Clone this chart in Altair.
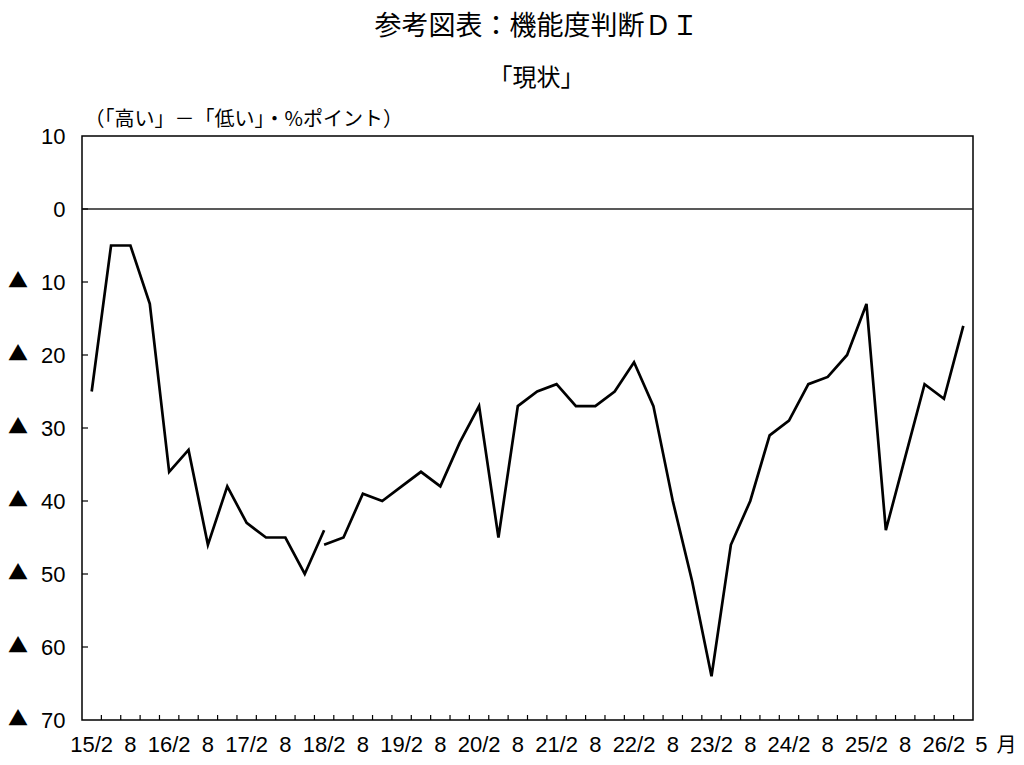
import altair as alt
import pandas as pd

years = list(range(15, 27))
months = [2, 5, 8, 11]
keys = [f"{y}/{m}" for y in years for m in months][:46]

# series before the break (15/2 .. 18/2) and after (18/2 .. 26/5)
series_a = [-25, -5, -5, -13, -36, -33, -46, -38, -43, -45, -45, -50, -44]
series_b = [-46, -45, -39, -40, -38, -36, -38, -32, -27, -45, -27, -25, -24,
            -27, -27, -25, -21, -27, -40, -51, -64, -46, -40, -31, -29, -24,
            -23, -20, -13, -44, -34, -24, -26, -16]
b_start = 12
y_ticks = [-70, -60, -50, -40, -30, -20, -10, 0, 10]

rows = [{"key": keys[i], "idx": i, "value": v, "series": "a"} for i, v in enumerate(series_a)]
rows += [{"key": keys[b_start + i], "idx": b_start + i, "value": v, "series": "b"}
         for i, v in enumerate(series_b)]
df = pd.DataFrame(rows)
xtick_df = pd.DataFrame({"key": keys[1:]})
ytick_df = pd.DataFrame({"value": y_ticks[1:-1]})
tri_df = pd.DataFrame({"value": [v for v in y_ticks if v < 0], "mark": "▲"})
zero_df = pd.DataFrame({"value": [0]})

NUM_FONT = "Liberation Sans Narrow, Liberation Sans, Arial, sans-serif"
JP_FONT = "Noto Sans CJK JP"
W, H = 891, 584

x_label_expr = ("split(datum.value, '/')[1] == '2' ? datum.value : "
                "split(datum.value, '/')[1] == '8' ? '8' : "
                "datum.value == '26/5' ? '5' : ''")
y_label_expr = "format(abs(datum.value), 'd')"

x_axis = alt.Axis(labelExpr=x_label_expr, labelAngle=0, labelOverlap=False,
                  ticks=False, domain=False, grid=False,
                  labelFont=NUM_FONT, labelFontSize=22, labelColor="black",
                  labelPadding=14,
                  labelOffset={"condition": {"test": "datum.value == '26/5'", "value": 18},
                               "value": 0},
                  title="月", titleAngle=0, titleX=924, titleY=25,
                  titleAlign="center", titleBaseline="middle",
                  titleFont=JP_FONT, titleFontSize=20, titleFontWeight="normal",
                  titleColor="black")
y_axis = alt.Axis(values=y_ticks, labelExpr=y_label_expr,
                  ticks=False, domain=False, grid=False,
                  labelFont=NUM_FONT, labelFontSize=22, labelColor="black",
                  labelPadding=17,
                  title="（「高い」－「低い」・%ポイント）",
                  titleAngle=0, titleAlign="left", titleBaseline="middle",
                  titleX=2, titleY=-17,
                  titleFont=JP_FONT, titleFontSize=20, titleFontWeight="normal",
                  titleColor="black")
x_scale = alt.Scale(type="band", paddingInner=0, paddingOuter=0)
y_scale = alt.Scale(domain=[-70, 10], nice=False, zero=False)

line = alt.Chart(df).mark_line(color="black", strokeWidth=2.7).encode(
    x=alt.X("key:O", sort=keys, scale=x_scale, axis=x_axis),
    y=alt.Y("value:Q", scale=y_scale, axis=y_axis),
    detail="series:N",
    order=alt.Order("idx:Q"),
)

xticks = alt.Chart(xtick_df).mark_rule(color="black", strokeWidth=1.2).encode(
    x=alt.X("key:O", sort=keys, bandPosition=0, scale=x_scale, axis=x_axis),
    y=alt.value(H),
    y2=alt.value(H - 5),
)

yticks = alt.Chart(ytick_df).mark_rule(color="black", strokeWidth=1.2).encode(
    y=alt.Y("value:Q", scale=y_scale, axis=y_axis),
    x=alt.value(0),
    x2=alt.value(6),
)

tri = alt.Chart(tri_df).mark_text(font=JP_FONT, fontSize=20, color="black",
                                  align="center", baseline="middle").encode(
    y=alt.Y("value:Q", scale=y_scale, axis=y_axis),
    x=alt.value(-64),
    text="mark:N",
)

zero = alt.Chart(zero_df).mark_rule(color="#222222", strokeWidth=1.5).encode(
    y=alt.Y("value:Q", scale=y_scale, axis=y_axis),
)

chart = alt.layer(line, zero, xticks, yticks, tri).properties(
    width=W,
    height=H,
    title=alt.Title(text="参考図表：機能度判断ＤＩ", subtitle="「現状」",
                    font=JP_FONT, subtitleFont=JP_FONT,
                    fontSize=27, subtitleFontSize=24,
                    fontWeight="normal", subtitleFontWeight="normal",
                    color="black", subtitleColor="black",
                    anchor="middle", frame="group", offset=17,
                    subtitlePadding=26, dx=9),
    autosize=alt.AutoSizeParams(type="none"),
    padding={"left": 74, "top": 128, "right": 43, "bottom": 36},
).configure_view(stroke="black", strokeWidth=1.5)

chart.save("out.html", embed_options={"renderer": "svg", "actions": False})
